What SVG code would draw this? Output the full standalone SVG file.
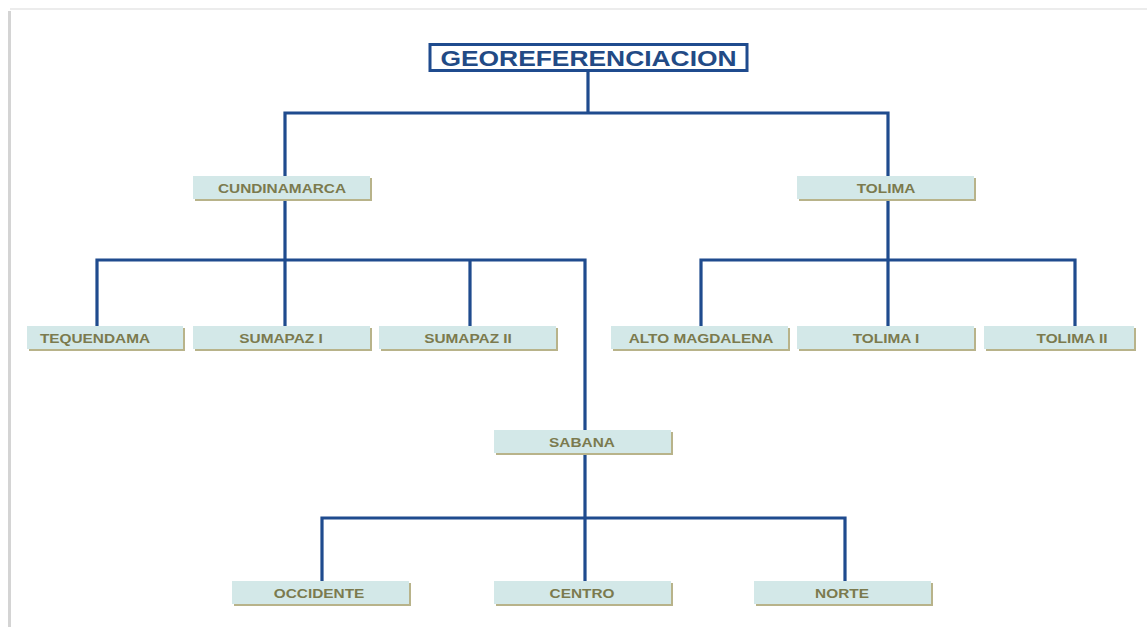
<svg xmlns="http://www.w3.org/2000/svg" width="1147" height="627" viewBox="0 0 1147 627">
<style>
.sh{fill:#b8b38a}
.bx{fill:#d3e8e8}
.lb{font-family:"Liberation Sans",Arial,sans-serif;font-weight:bold;font-size:13.5px;fill:#7b7a4e;text-anchor:middle}
.cn{fill:none;stroke:#1f4b8e;stroke-width:3.2;stroke-linejoin:miter}
</style>
<rect x="0" y="0" width="1147" height="627" fill="#ffffff"/>
<rect x="8" y="11" width="3" height="616" fill="#d4d4d4"/>
<rect x="10" y="8" width="1137" height="2" fill="#ececec"/>
<g id="connectors">
<path class="cn" d="M588 71V113M285 176V113H888V176"/>
<path class="cn" d="M285 200V326M97 326V260H585V430M470 260V326"/>
<path class="cn" d="M888 200V326M701 326V260H1075V326"/>
<path class="cn" d="M585 455V581M322 581V518H845V581"/>
</g>
<g id="georeferenciacion">
<rect x="430" y="44.5" width="317" height="26" fill="#ffffff" stroke="#1f4b8e" stroke-width="3"/>
<text transform="translate(588.5,66) scale(1.2,1)" font-family="Liberation Sans,Arial,sans-serif" font-weight="bold" font-size="22" fill="#224a85" text-anchor="middle">GEOREFERENCIACION</text>
</g>
<g id="cundinamarca"><rect class="sh" x="195" y="178" width="177" height="23"/><rect class="bx" x="193" y="176" width="177" height="23"/><text class="lb" transform="translate(282,192.5) scale(1.14,1)">CUNDINAMARCA</text></g>
<g id="tolima"><rect class="sh" x="799" y="178" width="177" height="23"/><rect class="bx" x="797" y="176" width="177" height="23"/><text class="lb" transform="translate(886,192.5) scale(1.14,1)">TOLIMA</text></g>
<g id="tequendama"><rect class="sh" x="29" y="328" width="156" height="23"/><rect class="bx" x="27" y="326" width="156" height="23"/><text class="lb" transform="translate(95,342.5) scale(1.14,1)">TEQUENDAMA</text></g>
<g id="sumapaz1"><rect class="sh" x="195" y="328" width="177" height="23"/><rect class="bx" x="193" y="326" width="177" height="23"/><text class="lb" transform="translate(281,342.5) scale(1.14,1)">SUMAPAZ I</text></g>
<g id="sumapaz2"><rect class="sh" x="381" y="328" width="177" height="23"/><rect class="bx" x="379" y="326" width="177" height="23"/><text class="lb" transform="translate(468,342.5) scale(1.14,1)">SUMAPAZ II</text></g>
<g id="altomagdalena"><rect class="sh" x="613" y="328" width="177" height="23"/><rect class="bx" x="611" y="326" width="177" height="23"/><text class="lb" transform="translate(701,342.5) scale(1.14,1)">ALTO MAGDALENA</text></g>
<g id="tolima1"><rect class="sh" x="799" y="328" width="177" height="23"/><rect class="bx" x="797" y="326" width="177" height="23"/><text class="lb" transform="translate(886,342.5) scale(1.14,1)">TOLIMA I</text></g>
<g id="tolima2"><rect class="sh" x="986" y="328" width="150" height="23"/><rect class="bx" x="984" y="326" width="150" height="23"/><text class="lb" transform="translate(1072,342.5) scale(1.14,1)">TOLIMA II</text></g>
<g id="sabana"><rect class="sh" x="496" y="432" width="177" height="23"/><rect class="bx" x="494" y="430" width="177" height="23"/><text class="lb" transform="translate(582,446.5) scale(1.14,1)">SABANA</text></g>
<g id="occidente"><rect class="sh" x="234" y="583" width="177" height="23"/><rect class="bx" x="232" y="581" width="177" height="23"/><text class="lb" transform="translate(319,597.5) scale(1.14,1)">OCCIDENTE</text></g>
<g id="centro"><rect class="sh" x="496" y="583" width="177" height="23"/><rect class="bx" x="494" y="581" width="177" height="23"/><text class="lb" transform="translate(582,597.5) scale(1.14,1)">CENTRO</text></g>
<g id="norte"><rect class="sh" x="756" y="583" width="177" height="23"/><rect class="bx" x="754" y="581" width="177" height="23"/><text class="lb" transform="translate(842,597.5) scale(1.14,1)">NORTE</text></g>
</svg>
